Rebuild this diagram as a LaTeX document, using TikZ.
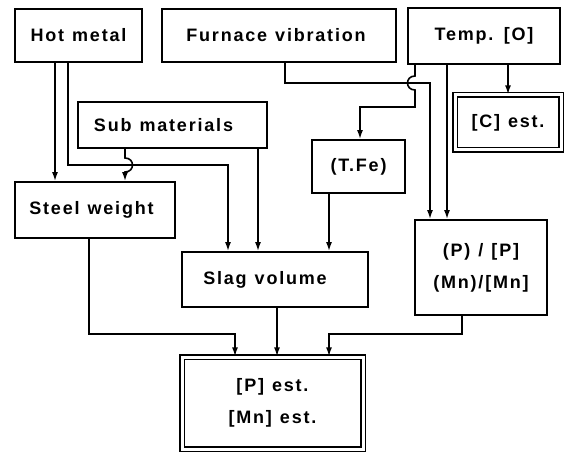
\documentclass[tikz,border=0pt]{standalone}
\usepackage{fontspec}
\setmainfont[LetterSpace=10]{Liberation Sans}
\usetikzlibrary{arrows.meta}
\newcommand\mywordsp{\spaceskip=8pt plus 2pt\relax}
\tikzset{
  box/.style={draw, line width=1.8pt, rectangle, inner sep=0pt, font=\bfseries\fontsize{18}{32}\selectfont\mywordsp, align=center},
  dbox/.style={box, double, double distance=3pt, line width=1.2pt},
  arr/.style={line width=1.6pt, -{Latex[length=9pt,width=6pt]}}
}
\begin{document}
\begin{tikzpicture}[x=1pt,y=-1pt]
\useasboundingbox (0,0) rectangle (570,454);
% boxes
\node[box, minimum width=127pt, minimum height=53pt] (hot) at (78.5,35.5) {Hot metal};
\node[box, minimum width=234pt, minimum height=53pt] (furn) at (279,35.5) {Furnace vibration\hspace{6pt}};
\node[box, minimum width=152pt, minimum height=56pt] (temp) at (484,36) {Temp. [O]};
\node[dbox, minimum width=106pt, minimum height=55pt] (cest) at (508,122.5) {[C] est.};
\node[box, minimum width=189pt, minimum height=46pt] (sub) at (172.5,125) {Sub materials\hspace{18pt}};
\node[box, minimum width=160pt, minimum height=56pt] (steel) at (95,210) {Steel weight\hspace{7pt}};
\node[box, minimum width=93pt, minimum height=53pt] (tfe) at (358.5,166.5) {(T.Fe)};
\node[box, minimum width=186pt, minimum height=55pt] (slag) at (275,279.5) {Slag volume\hspace{20pt}};
\node[box, minimum width=132pt, minimum height=95pt] (pp) at (481,267.5) {(P) / [P]\\{}(Mn)/[Mn]};
\node[dbox, minimum width=181pt, minimum height=92pt] (pest) at (272.5,403) {[P] est.\\{}[Mn] est.};
% x positions
\coordinate (x55) at (55,0);
\coordinate (x68) at (68,0);
\coordinate (x125) at (125,0);
\coordinate (x228) at (228,0);
\coordinate (x258) at (258,0);
\coordinate (x285) at (285,0);
\coordinate (x415) at (415,0);
\coordinate (x430) at (430,0);
\coordinate (x447) at (447,0);
\coordinate (x360) at (360,0);
\coordinate (x329) at (329,0);
\coordinate (x89) at (89,0);
\coordinate (x235) at (235,0);
\coordinate (x277) at (277,0);
\coordinate (x462) at (462,0);
\coordinate (x508) at (508,0);
% connectors
\draw[arr] (hot.south -| x55) -- (steel.north -| x55);
\draw[arr] (hot.south -| x68) -- (68,165) -- (228,165) -- (slag.north -| x228);
\draw[arr] (sub.south -| x125) -- (125,158) .. controls (135,158) and (135,172) .. (125,172) -- (steel.north -| x125);
\draw[arr] (sub.south -| x258) -- (slag.north -| x258);
\draw[arr] (furn.south -| x285) -- (285,83) -- (430,83) -- (pp.north -| x430);
\draw[arr] (temp.south -| x415) -- (415,76) .. controls (405,76) and (405,90) .. (415,90) -- (415,107) -- (360,107) -- (tfe.north -| x360);
\draw[arr] (temp.south -| x447) -- (pp.north -| x447);
\draw[arr] (temp.south -| x508) -- (cest.north -| x508);
\draw[arr] (tfe.south -| x329) -- (slag.north -| x329);
\draw[arr] (steel.south -| x89) -- (89,334) -- (235,334) -- (pest.north -| x235);
\draw[arr] (slag.south -| x277) -- (pest.north -| x277);
\draw[arr] (pp.south -| x462) -- (462,334) -- (329,334) -- (pest.north -| x329);
\end{tikzpicture}
\end{document}
